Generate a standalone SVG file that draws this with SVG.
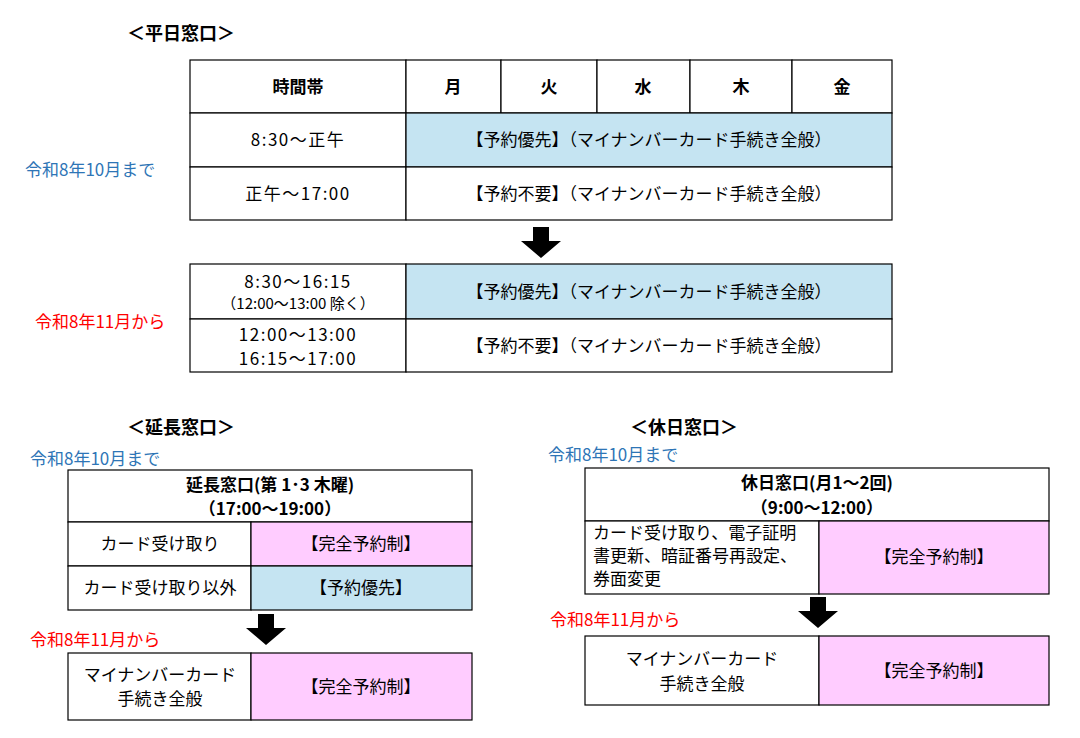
<svg xmlns="http://www.w3.org/2000/svg" width="1080" height="738" viewBox="0 0 1080 738">
<style>
text{font-family:"Noto Sans CJK JP","Noto Sans",sans-serif;font-size:17px;fill:#000;text-anchor:middle}
.b{font-weight:bold}
.n{letter-spacing:1.5px}
.t{font-weight:bold;font-size:18px;text-anchor:start}
.blue{fill:#2e75b6;text-anchor:start}
.red{fill:#ff0000;text-anchor:start}
rect{stroke:#000;stroke-width:1.2;fill:#fff}
.bl{fill:#c5e4f2}
.pk{fill:#ffccff}
</style>
<defs><path id="arr" d="M-8,0 h16 v14 h12 l-20,17 l-20,-17 h12 z" fill="#000"/></defs>
<rect x="0" y="0" width="1080" height="738" style="fill:#fff;stroke:none"/>
<g id="weekday">
<text class="t" x="127" y="40">＜平日窓口＞</text>
<rect x="190" y="60" width="216" height="53"/><rect x="406" y="60" width="95" height="53"/><rect x="501" y="60" width="96" height="53"/><rect x="597" y="60" width="93" height="53"/><rect x="690" y="60" width="102" height="53"/><rect x="792" y="60" width="100" height="53"/>
<text class="b" x="298" y="93">時間帯</text><text class="b" x="453" y="93">月</text><text class="b" x="549" y="93">火</text><text class="b" x="643" y="93">水</text><text class="b" x="741" y="93">木</text><text class="b" x="842" y="93">金</text>
<rect x="190" y="113" width="216" height="54"/><rect class="bl" x="406" y="113" width="486" height="54"/>
<text class="n" x="298" y="146">8:30～正午</text><text x="649" y="146">【予約優先】（マイナンバーカード手続き全般）</text>
<rect x="190" y="167" width="216" height="53"/><rect x="406" y="167" width="486" height="53"/>
<text class="n" x="298" y="200">正午～17:00</text><text x="649" y="200">【予約不要】（マイナンバーカード手続き全般）</text>
<text class="blue" x="25" y="176">令和8年10月まで</text>
<rect x="190" y="264" width="216" height="55"/><rect class="bl" x="406" y="264" width="486" height="55"/>
<text class="n" x="298" y="288">8:30～16:15</text><text x="298" y="309" style="font-size:15px">（12:00～13:00 除く）</text>
<text x="649" y="298">【予約優先】（マイナンバーカード手続き全般）</text>
<rect x="190" y="319" width="216" height="53"/><rect x="406" y="319" width="486" height="53"/>
<text class="n" x="298" y="341">12:00～13:00</text><text class="n" x="298" y="365">16:15～17:00</text>
<text x="649" y="352">【予約不要】（マイナンバーカード手続き全般）</text>
<text class="red" x="35" y="328">令和8年11月から</text>
</g>
<g id="extended">
<text class="t" x="127" y="434">＜延長窓口＞</text>
<text class="blue" x="30" y="465">令和8年10月まで</text>
<rect x="68" y="470" width="404" height="52"/>
<text class="b" x="270" y="491">延長窓口(第 1･3 木曜)</text><text class="b" x="270" y="515">（17:00～19:00）</text>
<rect x="68" y="522" width="183" height="44"/><rect class="pk" x="251" y="522" width="221" height="44"/>
<text x="160" y="550">カード受け取り</text><text x="361" y="550">【完全予約制】</text>
<rect x="68" y="566" width="183" height="44"/><rect class="bl" x="251" y="566" width="221" height="44"/>
<text x="160" y="594">カード受け取り以外</text><text x="361" y="594">【予約優先】</text>
<text class="red" x="30" y="646">令和8年11月から</text>
<rect x="68" y="653" width="183" height="67"/><rect class="pk" x="251" y="653" width="221" height="67"/>
<text x="160" y="681">マイナンバーカード</text><text x="160" y="705">手続き全般</text><text x="361" y="693">【完全予約制】</text>
</g>
<g id="holiday">
<text class="t" x="630" y="434">＜休日窓口＞</text>
<text class="blue" x="548" y="461">令和8年10月まで</text>
<rect x="585" y="468" width="464" height="53"/>
<text class="b" x="817" y="489">休日窓口(月1～2回)</text><text class="b" x="817" y="514">（9:00～12:00）</text>
<rect x="585" y="521" width="234" height="73"/><rect class="pk" x="819" y="521" width="230" height="73"/>
<text x="593" y="539" style="text-anchor:start">カード受け取り、電子証明</text><text x="593" y="562" style="text-anchor:start">書更新、暗証番号再設定、</text><text x="593" y="585" style="text-anchor:start">券面変更</text>
<text x="934" y="563">【完全予約制】</text>
<text class="red" x="550" y="626">令和8年11月から</text>
<rect x="585" y="636" width="234" height="69"/><rect class="pk" x="819" y="636" width="230" height="69"/>
<text x="702" y="665">マイナンバーカード</text><text x="702" y="690">手続き全般</text><text x="934" y="677">【完全予約制】</text>
</g>
<g id="connectors">
<use href="#arr" x="541" y="227"/>
<use href="#arr" x="266" y="614"/>
<use href="#arr" x="818" y="597"/>
</g>
</svg>
